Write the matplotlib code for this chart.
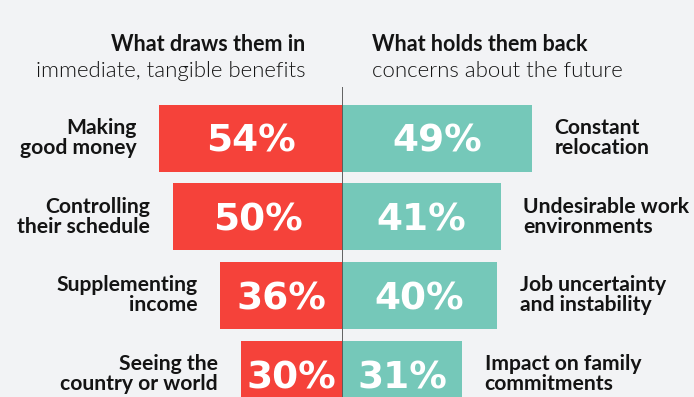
import matplotlib
matplotlib.use("Agg")
import matplotlib.pyplot as plt

plt.rcParams['font.family'] = ['Lato', 'DejaVu Sans']

left_labels = ["Making\ngood money", "Controlling\ntheir schedule", "Supplementing\nincome", "Seeing the\ncountry or world"]
left_values = [54, 50, 36, 30]
right_labels = ["Constant\nrelocation", "Undesirable work\nenvironments", "Job uncertainty\nand instability", "Impact on family\ncommitments"]
right_values = [49, 41, 40, 31]
left_title = "What draws them in"
left_sub = "immediate, tangible benefits"
right_title = "What holds them back"
right_sub = "concerns about the future"

BG = "#F2F3F5"
RED = "#F5423A"
TEAL = "#75C8B9"
TXT = "#141414"

W, H = 694, 397
fig = plt.figure(figsize=(W / 100, H / 100), dpi=100, facecolor=BG)

cx = 342
axL = fig.add_axes([0, 0, cx / W, 1])
axR = fig.add_axes([cx / W, 0, (W - cx) / W, 1])
for ax in (axL, axR):
    ax.set_facecolor(BG)
    ax.axis("off")
    pitch = 78.67
    ax.set_ylim((H - 138) / pitch, -138 / pitch)

axL.set_xlim(cx / 3.38, 0)
axR.set_xlim(0, (W - cx) / 3.875)

ypos = list(range(len(left_values)))
bh = 67 / 78.67
axL.barh(ypos, left_values, height=bh, color=RED, zorder=2)
axR.barh(ypos, right_values, height=bh, color=TEAL, zorder=2)

PCT_FS = 27
LAB_FS = 15.2
PCT_FONT = ["DejaVu Sans"]
for i, v in enumerate(left_values):
    axL.text(v / 2, i, f"{v}%", color="white", fontsize=PCT_FS, fontweight="bold",
             family=PCT_FONT, ha="center", va="center_baseline", zorder=3)
    axL.annotate(left_labels[i], xy=(v, i), xytext=(-23 * 0.72, 0), textcoords="offset points",
                 ha="right", va="center", fontsize=LAB_FS, fontweight="bold", color=TXT,
                 linespacing=1.0)
for i, v in enumerate(right_values):
    axR.text(v / 2, i, f"{v}%", color="white", fontsize=PCT_FS, fontweight="bold",
             family=PCT_FONT, ha="center", va="center_baseline", zorder=3)
    axR.annotate(right_labels[i], xy=(v, i), xytext=(22.5 * 0.72, 0), textcoords="offset points",
                 ha="left", va="center", fontsize=LAB_FS, fontweight="bold", color=TXT,
                 linespacing=1.0)

# center divider
axR.vlines(0, (87 - 138) / 78.67, (H - 138) / 78.67, color="#555555", lw=1.3, zorder=4)

fig.text(305 / W, 1 - 50.7 / H, left_title, ha="right", va="baseline", fontsize=15.5,
         fontweight="bold", color=TXT)
fig.text(305 / W, 1 - 77.3 / H, left_sub, ha="right", va="baseline", fontsize=16,
         fontweight=300, color=TXT)
fig.text(371.7 / W, 1 - 50.7 / H, right_title, ha="left", va="baseline", fontsize=15.5,
         fontweight="bold", color=TXT)
fig.text(371.7 / W, 1 - 77.3 / H, right_sub, ha="left", va="baseline", fontsize=16,
         fontweight=300, color=TXT)

fig.savefig("out.png", dpi=100, facecolor=BG)
